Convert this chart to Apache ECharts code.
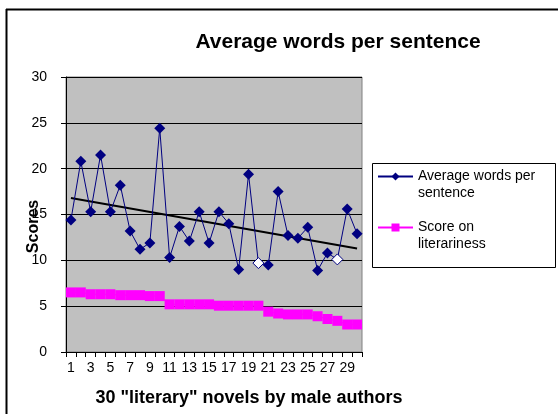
<!DOCTYPE html>
<html>
<head>
<meta charset="utf-8">
<script src="https://cdn.jsdelivr.net/npm/echarts@6/dist/echarts.min.js"></script>
<style>
  html, body { margin: 0; padding: 0; background: #fff; }
  #chart { width: 558px; height: 414px; }
</style>
</head>
<body>
<div id="chart"></div>
<script>
// 30 novels, numbered 1..30
const novels = Array.from({ length: 30 }, (_, i) => String(i + 1))

const avgWords = [
  14.4, 20.8, 15.3, 21.5, 15.3, 18.2, 13.2, 11.2, 11.9, 24.4,
  10.3, 13.7, 12.1, 15.3, 11.9, 15.3, 14.0, 9.0, 19.4, 9.7,
  9.5, 17.5, 12.7, 12.4, 13.6, 8.9, 10.8, 10.1, 15.6, 12.9
]

const literariness = [
  6.5, 6.5, 6.3, 6.3, 6.3, 6.2, 6.2, 6.2, 6.1, 6.1,
  5.2, 5.2, 5.2, 5.2, 5.2, 5.05, 5.05, 5.05, 5.05, 5.05,
  4.4, 4.2, 4.1, 4.1, 4.1, 3.9, 3.6, 3.4, 3.0, 3.0
]

// trendline end values (first and last novel)
const trendEnds = [16.8, 11.3]

// novels whose marker is drawn hollow (white)
const hollowPoints = [20, 28]

const yTicks = { min: 0, max: 30, interval: 5 }

const chart = echarts.init(document.getElementById('chart'))
const font = '"Liberation Sans", Arial, sans-serif'

const avgData = avgWords.map((v, i) => {
  if (hollowPoints.includes(i + 1)) {
    return { value: v, itemStyle: { color: '#ffffff', borderColor: '#000080', borderWidth: 1 } }
  }
  return v
})
const trendData = novels.map((_, i) => {
  if (i === 0) return trendEnds[0]
  if (i === novels.length - 1) return trendEnds[1]
  return null
})

// legend names: a blank first line keeps the marker level with the first text line
const avgName = ' \nAverage words per\nsentence'
const litName = ' \nScore on\nliterariness'

const options = {
  backgroundColor: '#fff',
  animation: false,
  textStyle: { fontFamily: font },
  title: {
    text: 'Average words per sentence',
    left: 333,
    top: 27,
    textAlign: 'center',
    textStyle: { fontSize: 21, fontWeight: 'bold', color: '#000', fontFamily: font }
  },
  graphic: [
    { type: 'line', shape: { x1: 6, y1: 9.5, x2: 558, y2: 9.5 }, style: { stroke: '#000', lineWidth: 2 } },
    { type: 'line', shape: { x1: 6.5, y1: 9, x2: 6.5, y2: 414 }, style: { stroke: '#000', lineWidth: 2 } },
    { type: 'rect', shape: { x: 372.5, y: 163.5, width: 183, height: 104 }, style: { fill: '#fff', stroke: '#000', lineWidth: 1 }, z: -1 }
  ],
  legend: {
    left: 372,
    top: 146,
    orient: 'vertical',
    itemGap: 0,
    itemWidth: 35,
    itemHeight: 10,
    data: [avgName, litName],
    textStyle: { fontSize: 14, color: '#000', fontFamily: font, lineHeight: 17 }
  },
  grid: {
    left: 66,
    right: 196,
    top: 77,
    bottom: 62,
    show: true,
    backgroundColor: '#c0c0c0',
    borderColor: '#808080',
    borderWidth: 1
  },
  xAxis: {
    type: 'category',
    data: novels,
    boundaryGap: true,
    name: '30 "literary" novels by male authors',
    nameLocation: 'middle',
    nameGap: 37,
    nameMoveOverlap: false,
    nameTextStyle: { fontSize: 18, fontWeight: 'bold', color: '#000', padding: [0, 0, 0, 70], verticalAlign: 'top' },
    axisLine: { lineStyle: { color: '#000', width: 1 } },
    axisTick: { show: true, interval: 0, length: 5, lineStyle: { color: '#000' } },
    axisLabel: { interval: 1, fontSize: 14, color: '#000', margin: 9 },
    splitLine: { show: false }
  },
  yAxis: {
    type: 'value',
    min: yTicks.min,
    max: yTicks.max,
    interval: yTicks.interval,
    name: 'Scores',
    nameLocation: 'middle',
    nameRotate: 90,
    nameGap: 24,
    nameMoveOverlap: false,
    nameTextStyle: { fontSize: 16, fontWeight: 'bold', color: '#000', padding: [0, 24, 0, 0] },
    axisLine: { show: true, lineStyle: { color: '#000', width: 1 } },
    axisTick: { show: true, length: 5, lineStyle: { color: '#000' } },
    axisLabel: { fontSize: 14, color: '#000', margin: 19 },
    splitLine: { show: true, lineStyle: { color: '#000', width: 1 } }
  },
  series: [
    {
      name: avgName,
      type: 'line',
      data: avgData,
      symbol: 'diamond',
      symbolSize: 11,
      showAllSymbol: true,
      itemStyle: { color: '#000080' },
      lineStyle: { color: '#000080', width: 1 },
      z: 3
    },
    {
      name: litName,
      type: 'line',
      data: literariness,
      symbol: 'rect',
      symbolSize: 10,
      showAllSymbol: true,
      itemStyle: { color: '#ff00ff' },
      lineStyle: { color: '#ff00ff', width: 1 },
      z: 3
    },
    {
      name: 'trend',
      type: 'line',
      data: trendData,
      connectNulls: true,
      symbol: 'none',
      lineStyle: { color: '#000', width: 2 },
      z: 2,
      silent: true
    }
  ]
}

chart.setOption(options)
</script>
</body>
</html>
